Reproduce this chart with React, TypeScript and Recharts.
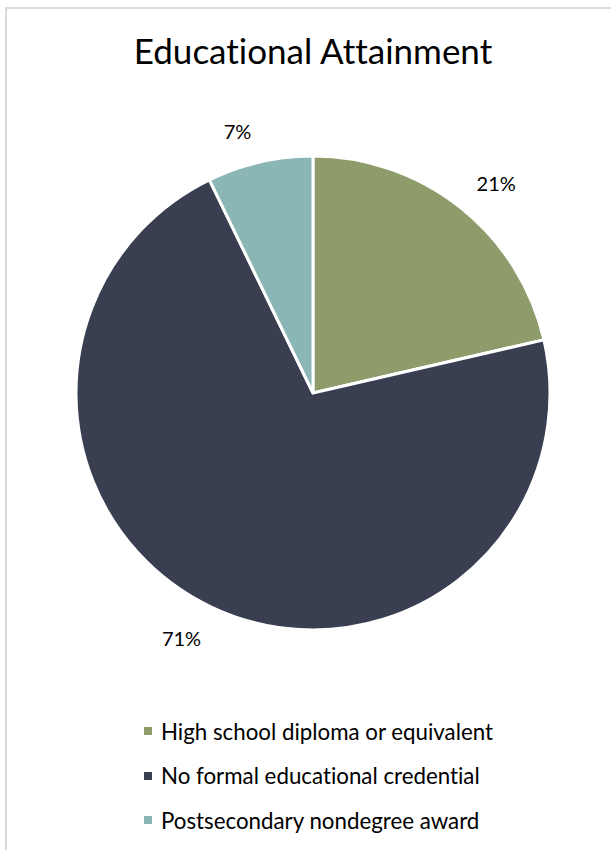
import React from "react";
import { PieChart, Pie, Cell, Legend } from "recharts";

const categories = [
  "High school diploma or equivalent",
  "No formal educational credential",
  "Postsecondary nondegree award",
];
const shares = [21.4, 71.4, 7.2];
const colors = ["#8E9C6B", "#393F51", "#8AB6B5"];
const title = "Educational Attainment";

const data = categories.map((name, i) => ({ name, value: shares[i] }));
const FONT = "Lato, 'Open Sans', sans-serif";
const RAD = Math.PI / 180;

const renderLabel = (props: any) => {
  const { cx, cy, midAngle, percent } = props;
  const R = 270;
  const c = Math.cos(midAngle * RAD);
  const s = Math.sin(midAngle * RAD);
  const x = cx + R * c + (c >= 0 ? 15 : -15);
  const y = cy - R * s + 1;
  return (
    <text
      x={x}
      y={y}
      textAnchor="middle"
      dominantBaseline="central"
      fontFamily={FONT}
      fontSize={20}
      fill="#000"
    >
      {`${Math.round(percent * 100)}%`}
    </text>
  );
};

const renderLegend = (props: any) => {
  const payload: any[] =
    props && props.payload && props.payload.length
      ? props.payload
      : categories.map((c, i) => ({ value: c, color: colors[i] }));
  return (
    <div style={{ fontFamily: FONT, fontVariantLigatures: "none" }}>
      {payload.map((p: any, i: number) => (
        <div
          key={i}
          style={{
            display: "flex",
            alignItems: "center",
            height: 44.5,
            fontSize: 22.3,
            color: "#000",
            whiteSpace: "nowrap",
          }}
        >
          <span
            style={{
              display: "inline-block",
              width: 8,
              height: 8,
              background: p.color,
              marginRight: 9,
            }}
          />
          <span>{p.value}</span>
        </div>
      ))}
    </div>
  );
};

export default function App() {
  return (
    <div
      style={{
        position: "absolute",
        left: 0,
        top: 0,
        width: 611,
        height: 850,
        background: "#fff",
        overflow: "hidden",
      }}
    >
      <div
        style={{
          position: "absolute",
          left: 5,
          top: 7,
          width: 640,
          height: 900,
          border: "2px solid #D9D9D9",
          boxSizing: "border-box",
        }}
      />
      <div
        style={{
          position: "absolute",
          left: 0,
          top: 26,
          width: 626,
          textAlign: "center",
          fontFamily: FONT,
          fontVariantLigatures: "none",
          fontSize: 35,
          color: "#000",
          lineHeight: "48px",
        }}
      >
        {title}
      </div>
      <div style={{ position: "absolute", left: 0, top: 0 }}>
        <PieChart width={611} height={850} margin={{ top: 0, right: 0, bottom: 0, left: 0 }}>
          <Pie
            data={data}
            dataKey="value"
            nameKey="name"
            cx={313}
            cy={393}
            outerRadius={237}
            startAngle={90}
            endAngle={-270}
            stroke="#FFFFFF"
            strokeWidth={3}
            label={renderLabel}
            labelLine={false}
            isAnimationActive={false}
          >
            {data.map((d, i) => (
              <Cell key={d.name} fill={colors[i]} />
            ))}
          </Pie>
          <Legend
            layout="horizontal"
            verticalAlign="bottom"
            align="left"
            content={renderLegend}
            wrapperStyle={{ position: "absolute", left: 144, top: 709, width: 440, bottom: "auto" }}
          />
        </PieChart>
      </div>
    </div>
  );
}
